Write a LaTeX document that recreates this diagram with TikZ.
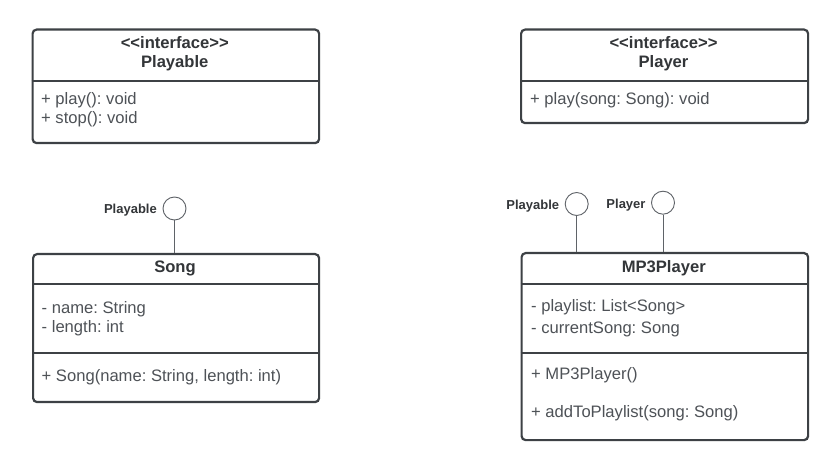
\documentclass[tikz,border=0pt]{standalone}
\usepackage{fontspec}
\setmainfont{Liberation Sans}
\frenchspacing
\definecolor{boxline}{HTML}{3D4145}
\definecolor{bodytext}{HTML}{4E5257}
\definecolor{titletext}{HTML}{333639}
\definecolor{lolline}{HTML}{5F6368}
\begin{document}
\begin{tikzpicture}[x=1pt,y=-1pt,
  umlbox/.style={draw=boxline, line width=2.2pt, rounded corners=4pt, fill=white, anchor=north west, inner sep=0pt},
  divider/.style={draw=boxline, line width=2pt},
  member/.style={anchor=base west, inner sep=0pt, text=bodytext, font=\fontsize{16.6}{19}\selectfont},
  title/.style={anchor=base, inner sep=0pt, text=titletext, font=\fontsize{16.6}{19}\selectfont\bfseries},
  lolly/.style={circle, draw=lolline, line width=0.9pt, minimum size=23pt, inner sep=0pt},
  lollystem/.style={draw=lolline, line width=0.9pt},
  lollylabel/.style={anchor=base east, inner sep=0pt, text=titletext, font=\fontsize{13}{15}\selectfont\bfseries}
]
\useasboundingbox (0,0) rectangle (831,465);
\fill[white] (0,0) rectangle (831,465);

% Playable interface
\node[umlbox, minimum width=286.5pt, minimum height=113.5pt] (playable) at (31.5,28.5) {};
\draw[divider] (31.5,81.5) coordinate (pdl) -- (318,81.5) coordinate (pdr);
\node[title] (playst) at (174.75,49) {<{}<interface>{}>};
\node[title] (playname) at (174.75,68) {Playable};
\node[member] (playm1) at (41,105) {+ play(): void};
\node[member] (playm2) at (41,124) {+ stop(): void};

% Player interface
\node[umlbox, minimum width=287pt, minimum height=93.5pt] (player) at (520,28.5) {};
\draw[divider] (520,81.5) coordinate (pldl) -- (807,81.5) coordinate (pldr);
\node[title] (plst) at (663.5,49) {<{}<interface>{}>};
\node[title] (plname) at (663.5,68) {Player};
\node[member] (plm1) at (530,105) {+ play(song: Song): void};

% Song class
\node[umlbox, minimum width=286pt, minimum height=148pt] (song) at (32,253) {};
\draw[divider] (32,284.3) coordinate (sd1l) -- (318,284.3) coordinate (sd1r);
\draw[divider] (32,352.7) coordinate (sd2l) -- (318,352.7) coordinate (sd2r);
\node[title] (songname) at (175,272.7) {Song};
\node[member] (songa1) at (41.5,313.3) {- name: String};
\node[member] (songa2) at (41.5,332.7) {- length: int};
\node[member] (songo1) at (41.5,381.7) {+ Song(name: String, length: int)};

% MP3Player class
\node[umlbox, minimum width=286.5pt, minimum height=187pt] (mp3) at (520.5,252) {};
\draw[divider] (520.5,284) coordinate (md1l) -- (807,284) coordinate (md1r);
\draw[divider] (520.5,352.7) coordinate (md2l) -- (807,352.7) coordinate (md2r);
\node[title] (mp3name) at (663.75,272.3) {MP3Player};
\node[member] (mp3a1) at (531,311.7) {- playlist: List<Song>};
\node[member] (mp3a2) at (531,333.3) {- currentSong: Song};
\node[member] (mp3o1) at (531,380) {+ MP3Player()};
\node[member] (mp3o2) at (531,417.3) {+ addToPlaylist(song: Song)};

% Lollipops
\node[lolly] (songlp) at (174.5,208.5) {};
\draw[lollystem] (songlp.south) -- (songlp.south |- song.north);
\node[lollylabel] (songlpl) at (157,213.3) {Playable};

\node[lolly] (mp3lp1) at (576.7,204) {};
\draw[lollystem] (mp3lp1.south) -- (mp3lp1.south |- mp3.north);
\node[lollylabel] (mp3lpl1) at (559.3,209.3) {Playable};

\node[lolly] (mp3lp2) at (663,202.7) {};
\draw[lollystem] (mp3lp2.south) -- (mp3lp2.south |- mp3.north);
\node[lollylabel] (mp3lpl2) at (645.7,208.3) {Player};
\end{tikzpicture}
\end{document}
